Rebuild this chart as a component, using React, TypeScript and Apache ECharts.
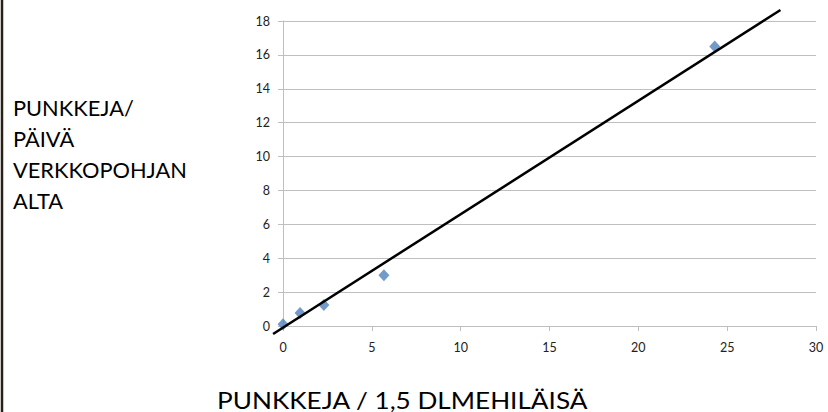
import React, { useEffect, useRef } from "react";
import * as echarts from "echarts";

const xTickInterval = 5;
const yTickInterval = 2;
const pointsX = [0, 0.96, 2.3, 5.68, 24.3];
const pointsY = [0.1, 0.77, 1.24, 3.0, 16.5];
const trendX = [-0.56, 28.0];
const trendY = [-0.47, 18.65];
const yTitleLines = ["PUNKKEJA/", "PÄIVÄ", "VERKKOPOHJAN", "ALTA"];
const xTitle = "PUNKKEJA / 1,5 DLMEHILÄISÄ";

export default function App() {
  const ref = useRef<HTMLDivElement>(null);
  useEffect(() => {
    if (!ref.current) return;
    const chart = echarts.init(ref.current, null, { renderer: "svg" });
    const font = "Lato, 'Open Sans', sans-serif";
    chart.setOption({
      animation: false,
      backgroundColor: "#ffffff",
      grid: { left: 283, right: 12, top: 21, bottom: 86, containLabel: false },
      xAxis: {
        type: "value",
        min: 0,
        max: 30,
        interval: xTickInterval,
        axisLine: { show: true, lineStyle: { color: "#bfbfbf", width: 1 } },
        axisTick: { show: true, length: 5, lineStyle: { color: "#bfbfbf" } },
        axisLabel: { color: "#222", fontSize: 12.5, fontFamily: font, margin: 15 },
        splitLine: { show: false },
      },
      yAxis: {
        type: "value",
        min: 0,
        max: 18,
        interval: yTickInterval,
        axisLine: { show: true, onZero: false, lineStyle: { color: "#bfbfbf", width: 1 } },
        axisTick: { show: true, length: 5, lineStyle: { color: "#bfbfbf" } },
        axisLabel: { color: "#222", fontSize: 12.5, fontFamily: font, margin: 13 },
        splitLine: { show: true, lineStyle: { color: "#bfbfbf", width: 1 } },
      },
      series: [
        {
          type: "custom",
          data: [[trendX[0], trendY[0], trendX[1], trendY[1]]],
          clip: false,
          encode: { x: [0, 2], y: [1, 3] },
          renderItem: (params: any, api: any) => {
            const p1 = api.coord([api.value(0), api.value(1)]);
            const p2 = api.coord([api.value(2), api.value(3)]);
            return {
              type: "line",
              shape: { x1: p1[0], y1: p1[1], x2: p2[0], y2: p2[1] },
              style: { stroke: "#000000", lineWidth: 2.5 },
            };
          },
          z: 3,
        },
        {
          type: "scatter",
          data: pointsX.map((x, i) => [x, pointsY[i]]),
          symbol: "diamond",
          symbolSize: [11, 12],
          itemStyle: { color: "#4f81bd" },
          z: 2,
        },
      ],
      graphic: [
        {
          type: "line",
          shape: { x1: 2, y1: 0, x2: 2, y2: 412 },
          style: { stroke: "#2a2018", lineWidth: 2.5 },
        },
        ...yTitleLines.map((t, i) => ({
          type: "text",
          left: 13,
          top: 96 + i * 31,
          style: { text: t, fontSize: 21.8, fontFamily: font, fill: "#000" },
        })),
        {
          type: "text",
          x: 217,
          y: 387,
          scaleX: 1.09,
          style: { text: xTitle, fontSize: 24, fontFamily: font, fill: "#000" },
        },
      ],
    });
    return () => chart.dispose();
  }, []);
  return (
    <div
      ref={ref}
      style={{ position: "absolute", left: 0, top: 0, width: 828, height: 412 }}
    />
  );
}
